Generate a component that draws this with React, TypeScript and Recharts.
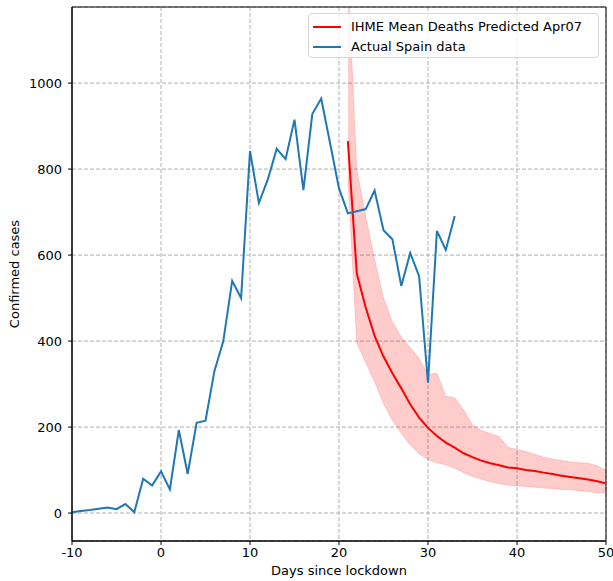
import React from 'react';
import {
  ComposedChart,
  Line,
  Area,
  XAxis,
  YAxis,
  CartesianGrid,
  ReferenceArea,
} from 'recharts';

// actual Spain daily deaths, day -10 .. 33
const actualStart = -10;
const actualDeaths = [
  2, 5, 7, 10, 13, 9, 21, 2, 80, 64,
  97, 55, 193, 91, 210, 215, 330, 400, 540, 500,
  842, 721, 776, 847, 823, 915, 751, 928, 964, 860,
  755, 697, 702, 707, 750, 658, 637, 528, 605, 551,
  303, 656, 612, 691,
];

// IHME prediction (Apr07), day 21 .. 50
const predStart = 21;
const predMean = [
  865, 557, 478, 412, 364, 325, 290, 253, 222, 198,
  179, 164, 152, 139, 130, 122, 116, 111, 106, 104,
  100, 98, 94, 91, 87, 84, 81, 78, 74, 69,
];
const predLower = [
  780, 395, 350, 305, 255, 215, 185, 158, 138, 124,
  117, 112, 104, 94, 85, 79, 73, 68, 65, 63,
  62, 60, 58, 57, 55, 54, 52, 50, 47, 48,
];
const predUpper = [
  1250, 800, 690, 590, 500, 445, 410, 385, 360, 322,
  325, 272, 268, 240, 205, 192, 185, 178, 153, 148,
  143, 137, 130, 126, 122, 119, 117, 116, 110, 100,
];

const xTicks = [-10, 0, 10, 20, 30, 40, 50];
const yTicks = [0, 200, 400, 600, 800, 1000];

const FONT = '"DejaVu Sans", sans-serif';

const rows: any[] = [];
for (let d = -10; d <= 50; d++) {
  const row: any = { day: d };
  const ai = d - actualStart;
  if (ai >= 0 && ai < actualDeaths.length) row.actual = actualDeaths[ai];
  const pi = d - predStart;
  if (pi >= 0 && pi < predMean.length) {
    row.mean = predMean[pi];
    row.band = [predLower[pi], predUpper[pi]];
  }
  rows.push(row);
}

const App: React.FC = () => {
  return (
    <div style={{ position: 'absolute', left: 0, top: 0, width: 613, height: 581, background: '#fff', fontFamily: FONT }}>
      <ComposedChart
        width={613}
        height={581}
        data={rows}
        margin={{ top: 7, right: 7, bottom: 0, left: 0 }}
      >
        <CartesianGrid stroke="#b0b0b0" strokeDasharray="4 2" vertical horizontal />
        <XAxis
          dataKey="day"
          type="number"
          domain={[-10, 50]}
          ticks={xTicks}
          height={40}
          tickSize={4}
          tickMargin={3}
          stroke="#000"
          tick={{ fill: '#000', fontSize: 13, fontFamily: FONT }}
          label={{ value: 'Days since lockdown', position: 'insideBottom', offset: 6, fill: '#000', fontSize: 13, fontFamily: FONT }}
        />
        <YAxis
          type="number"
          domain={[-65, 1177]}
          ticks={yTicks}
          allowDataOverflow
          width={72}
          tickSize={4}
          tickMargin={6}
          stroke="#000"
          tick={{ fill: '#000', fontSize: 13, fontFamily: FONT }}
          label={{ value: 'Confirmed cases', angle: -90, position: 'center', dx: -22, fill: '#000', fontSize: 13, fontFamily: FONT }}
        />
        <Area
          dataKey="band"
          type="linear"
          fill="#ff0000"
          fillOpacity={0.2}
          stroke="#ff0000"
          strokeOpacity={0.15}
          isAnimationActive={false}
          connectNulls={false}
        />
        <Line dataKey="mean" type="linear" stroke="#ff0000" strokeWidth={2} dot={false} isAnimationActive={false} />
        <Line dataKey="actual" type="linear" stroke="#1f77b4" strokeWidth={2} dot={false} isAnimationActive={false} />
        <ReferenceArea x1={-10} x2={50} y1={-65} y2={1177} fill="none" stroke="#000" strokeWidth={1} ifOverflow="visible" />
      </ComposedChart>
      <div
        style={{
          position: 'absolute',
          left: 308,
          top: 13,
          width: 291,
          height: 45,
          boxSizing: 'border-box',
          border: '1px solid #d6d6d6',
          borderRadius: 4,
          background: 'rgba(255,255,255,0.8)',
          fontSize: 13,
          color: '#000',
          padding: '3px 0 0 4px',
          lineHeight: '20px',
        }}
      >
        {[
          { name: 'IHME Mean Deaths Predicted Apr07', color: '#ff0000' },
          { name: 'Actual Spain data', color: '#1f77b4' },
        ].map((e) => (
          <div key={e.name} style={{ display: 'flex', alignItems: 'center', whiteSpace: 'nowrap' }}>
            <span style={{ display: 'inline-block', width: 28, height: 2, background: e.color, marginRight: 10 }} />
            {e.name}
          </div>
        ))}
      </div>
    </div>
  );
};

export default App;
